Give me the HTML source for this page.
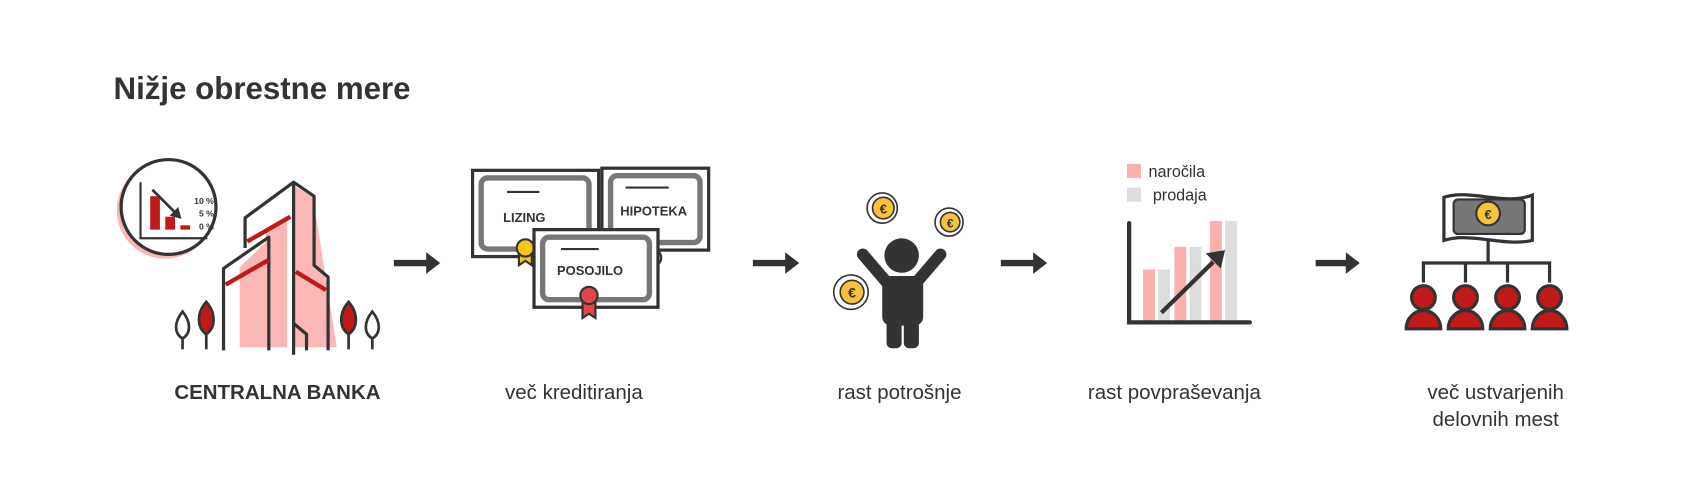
<!DOCTYPE html>
<html><head><meta charset="utf-8"><style>
html,body{margin:0;padding:0;background:#fff;width:1689px;height:497px;overflow:hidden}
svg{display:block}
text{font-family:"Liberation Sans",sans-serif;fill:#333}
</style></head><body>
<svg width="1689" height="497" viewBox="0 0 1566 461" xmlns="http://www.w3.org/2000/svg">
<text x="105" y="92" font-size="29" font-weight="bold">Nižje obrestne mere</text>

<!-- arrows -->
<g fill="#333">
<path d="M365 241h30v-7l13 10-13 10v-7h-30z"/>
<path d="M698 241h30v-7l13 10-13 10v-7h-30z"/>
<path d="M928 241h30v-7l13 10-13 10v-7h-30z"/>
<path d="M1220 241h28v-7l13 10-13 10v-7h-28z"/>
</g>

<!-- bank -->
<circle cx="153" cy="195" r="45" fill="#fbb6b6"/>
<circle cx="156" cy="192" r="44" fill="#fff" stroke="#333" stroke-width="3"/>
<path d="M130 169v52h62" fill="none" stroke="#333" stroke-width="2"/>
<rect x="139" y="182" width="9" height="31" fill="#c0191a"/>
<rect x="153" y="201" width="9" height="12" fill="#c0191a"/>
<rect x="167" y="209" width="9" height="4" fill="#c0191a"/>
<path d="M141 176l22 22" stroke="#333" stroke-width="2.5"/><path d="M168 203l-3-11-8 8z" fill="#333"/>
<text x="198" y="189" font-size="8" font-weight="bold" text-anchor="end">10 %</text>
<text x="198" y="201" font-size="8" font-weight="bold" text-anchor="end">5 %</text>
<text x="198" y="213" font-size="8" font-weight="bold" text-anchor="end">0 %</text>
<polygon points="272,172 290,183 312,322 272,322" fill="#fbb6b6"/>
<polygon points="222,248 249,222 249,322 222,322" fill="#fbb6b6"/>
<polygon points="246,212 266,200 266,322 246,322" fill="#fbb6b6"/>
<g fill="none" stroke="#333" stroke-width="3" stroke-linejoin="round">
<path d="M227 230v-28l45-33 19 13v64l13 11v68"/>
<path d="M272 169v160"/>
<path d="M207 325v-76l42-29v105"/>
<path d="M272 300l12 10v15"/>
</g>
<path d="M229 224l40-23" stroke="#c0191a" stroke-width="4"/>
<path d="M209 264l40-23" stroke="#c0191a" stroke-width="4"/>
<path d="M274 252l28 17" stroke="#c0191a" stroke-width="4"/>
<g stroke="#333" stroke-width="2.5">
<path d="M169 289c-8 10-8 20 0 25c8-5 8-15 0-25z" fill="#fff"/><path d="M169 314v10"/>
<path d="M191 280c-9 10-9 24 0 30c9-6 9-20 0-30z" fill="#c0191a"/><path d="M191 310v14"/>
<path d="M323 280c-9 10-9 24 0 30c9-6 9-20 0-30z" fill="#c0191a"/><path d="M323 310v14"/>
<path d="M345 289c-8 10-8 20 0 25c8-5 8-15 0-25z" fill="#fff"/><path d="M345 314v10"/>
</g>
<text x="257" y="370" font-size="19" font-weight="bold" text-anchor="middle">CENTRALNA BANKA</text>

<!-- certificates -->
<g stroke="#333">
<rect x="558" y="156" width="99" height="76" fill="#fff" stroke-width="3"/>
<rect x="566" y="163" width="83" height="62" fill="#fff" stroke="#777" stroke-width="5" rx="6"/>
<circle cx="605" cy="239" r="8" fill="#ddd" stroke-width="2"/>
<rect x="438" y="158" width="117" height="80" fill="#fff" stroke-width="3"/>
<rect x="446" y="165" width="100" height="66" fill="#fff" stroke="#777" stroke-width="5" rx="6"/>
<path d="M481 234v12l6-4 6 4v-12" fill="#f5c518" stroke-width="2"/>
<circle cx="487" cy="230" r="8" fill="#f5c518" stroke-width="2"/>
<rect x="495" y="213" width="115" height="72" fill="#fff" stroke-width="3"/>
<rect x="503" y="220" width="99" height="58" fill="#fff" stroke="#777" stroke-width="5" rx="6"/>
<path d="M540 280v15l6-4 6 4v-15" fill="#e04848" stroke-width="2"/>
<circle cx="546" cy="274" r="8" fill="#e04848" stroke-width="2"/>
<path d="M470 178h30M580 174h40M520 231h35" stroke-width="2"/>
</g>
<text x="486" y="206" font-size="12" font-weight="bold" text-anchor="middle">LIZING</text>
<text x="606" y="200" font-size="12" font-weight="bold" text-anchor="middle">HIPOTEKA</text>
<text x="547" y="255" font-size="12" font-weight="bold" text-anchor="middle">POSOJILO</text>
<text x="532" y="370" font-size="19" text-anchor="middle">več kreditiranja</text>

<!-- person -->
<g fill="#333">
<circle cx="836" cy="237" r="16"/>
<rect x="818" y="256" width="38" height="46" rx="8"/>
<rect x="822" y="290" width="14" height="33" rx="5"/><rect x="838" y="290" width="14" height="33" rx="5"/>
<path d="M800 236l24 28" stroke="#333" stroke-width="11" stroke-linecap="round"/>
<path d="M872 236l-24 28" stroke="#333" stroke-width="11" stroke-linecap="round"/>
</g>
<g stroke="#333" stroke-width="1.5">
<circle cx="818" cy="193" r="14" fill="#fff"/><circle cx="819" cy="193" r="10" fill="#f8c23c"/>
<circle cx="880" cy="206" r="13" fill="#fff"/><circle cx="881" cy="206" r="9" fill="#f8c23c"/>
<circle cx="789" cy="271" r="16" fill="#fff"/><circle cx="790" cy="271" r="11" fill="#f8c23c"/>
</g>
<text x="819" y="198" font-size="12" font-weight="bold" text-anchor="middle">€</text>
<text x="881" y="211" font-size="11" font-weight="bold" text-anchor="middle">€</text>
<text x="790" y="276" font-size="13" font-weight="bold" text-anchor="middle">€</text>
<text x="834" y="370" font-size="19" text-anchor="middle">rast potrošnje</text>

<!-- chart -->
<rect x="1045" y="152" width="13" height="13" fill="#fbb0b0"/>
<rect x="1045" y="174" width="13" height="13" fill="#ddd"/>
<text x="1065" y="164" font-size="15">naročila</text>
<text x="1069" y="186" font-size="15">prodaja</text>
<g>
<rect x="1060" y="250" width="11" height="48" fill="#fbb0b0"/><rect x="1074" y="250" width="11" height="48" fill="#ddd"/>
<rect x="1089" y="229" width="11" height="69" fill="#fbb0b0"/><rect x="1103" y="229" width="11" height="69" fill="#ddd"/>
<rect x="1122" y="205" width="11" height="93" fill="#fbb0b0"/><rect x="1136" y="205" width="11" height="93" fill="#ddd"/>
</g>
<path d="M1047 207v92h112" fill="none" stroke="#333" stroke-width="4" stroke-linecap="round"/>
<path d="M1077 290l48-47" stroke="#333" stroke-width="4"/>
<path d="M1136 232l-18 3 14 14z" fill="#333"/>
<text x="1089" y="370" font-size="19" text-anchor="middle">rast povpraševanja</text>

<!-- jobs -->
<path d="M1339 183c25 -8 55 8 82-2v42c-27 6-57-8-82 0z" fill="#fff" stroke="#333" stroke-width="3"/>
<rect x="1348" y="185" width="66" height="32" rx="4" fill="#777" stroke="#333" stroke-width="2"/>
<circle cx="1380" cy="198" r="11" fill="#f8c23c" stroke="#333" stroke-width="2"/>
<text x="1380" y="203" font-size="12" font-weight="bold" text-anchor="middle">€</text>
<path d="M1380 222v22M1320 262v-18h117v18M1359 244v18M1398 244v18" fill="none" stroke="#333" stroke-width="3"/>
<g stroke="#333" stroke-width="3" fill="#c0191a">
<path d="M1304 305a16 17 0 0 1 32 0z"/><circle cx="1320" cy="276" r="11"/>
<path d="M1343 305a16 17 0 0 1 32 0z"/><circle cx="1359" cy="276" r="11"/>
<path d="M1382 305a16 17 0 0 1 32 0z"/><circle cx="1398" cy="276" r="11"/>
<path d="M1421 305a16 17 0 0 1 32 0z"/><circle cx="1437" cy="276" r="11"/>
</g>
<text x="1387" y="370" font-size="19" text-anchor="middle">več ustvarjenih</text>
<text x="1387" y="395" font-size="19" text-anchor="middle">delovnih mest</text>
</svg>
</body></html>
